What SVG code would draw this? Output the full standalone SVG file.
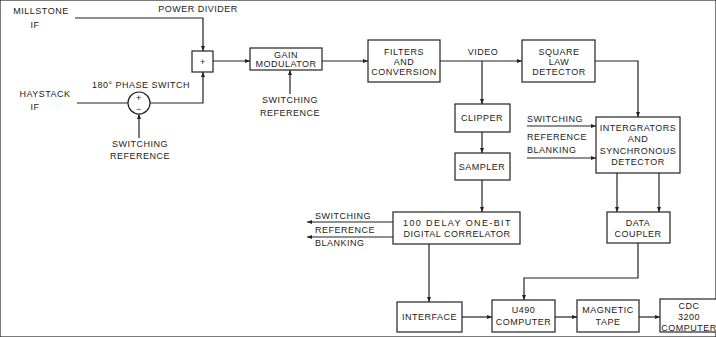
<svg xmlns="http://www.w3.org/2000/svg" width="716" height="337" viewBox="0 0 716 337">
<defs>
<marker id="ah" viewBox="0 0 10 10" refX="10" refY="5" markerWidth="5" markerHeight="5" orient="auto" markerUnits="userSpaceOnUse">
<path d="M0,1 L10,5 L0,9 Z" fill="#222"/>
</marker>
<style>
text{font-family:"Liberation Sans",Arial,sans-serif;font-size:9px;letter-spacing:0.5px;fill:#222;text-anchor:middle}
.s{text-anchor:start}
rect,circle{fill:#fff;stroke:#222;stroke-width:1.2}
.c path,.c line,.c polyline{fill:none;stroke:#222;stroke-width:1.2}
.a{marker-end:url(#ah)}
</style>
</defs>
<rect x="0" y="0" width="716" height="337" fill="#fff" stroke="none"/>

<g id="labels">
<text x="41" y="13.5">MILLSTONE</text>
<text x="35" y="27.5">IF</text>
<text x="198" y="12">POWER DIVIDER</text>
<text x="141" y="88">180° PHASE SWITCH</text>
<text x="45" y="97">HAYSTACK</text>
<text x="35" y="110">IF</text>
<text x="140" y="147">SWITCHING</text>
<text x="140" y="159">REFERENCE</text>
<text x="290" y="103">SWITCHING</text>
<text x="290" y="116">REFERENCE</text>
<text x="483" y="55">VIDEO</text>
<text class="s" x="527" y="122">SWITCHING</text>
<text class="s" x="527" y="140">REFERENCE</text>
<text class="s" x="527" y="153">BLANKING</text>
<text class="s" x="315" y="219">SWITCHING</text>
<text class="s" x="315" y="233">REFERENCE</text>
<text class="s" x="315" y="246">BLANKING</text>
</g>

<g id="sum">
<rect x="192" y="51" width="21" height="21"/>
<text x="203" y="64.5">+</text>
</g>
<g id="phase-switch">
<circle cx="139" cy="103" r="11"/>
<text x="139" y="101">+</text>
<text x="139" y="112">−</text>
</g>
<g id="gain-modulator">
<rect x="250" y="48" width="72" height="22"/>
<text x="286" y="58">GAIN</text>
<text x="286" y="67">MODULATOR</text>
</g>
<g id="filters">
<rect x="368" y="40" width="72" height="42"/>
<text x="404" y="55">FILTERS</text>
<text x="404" y="64.5">AND</text>
<text x="404" y="75">CONVERSION</text>
</g>
<g id="square-law">
<rect x="522" y="40" width="73" height="42"/>
<text x="559" y="55">SQUARE</text>
<text x="559" y="65">LAW</text>
<text x="559" y="75">DETECTOR</text>
</g>
<g id="clipper">
<rect x="455" y="104" width="55" height="28"/>
<text x="482" y="121">CLIPPER</text>
</g>
<g id="sampler">
<rect x="455" y="153" width="55" height="27"/>
<text x="482" y="170">SAMPLER</text>
</g>
<g id="integrators">
<rect x="596" y="117" width="84" height="56"/>
<text x="638" y="131">INTERGRATORS</text>
<text x="638" y="142">AND</text>
<text x="638" y="154">SYNCHRONOUS</text>
<text x="638" y="165">DETECTOR</text>
</g>
<g id="data-coupler">
<rect x="607" y="212" width="63" height="31"/>
<text x="638" y="226">DATA</text>
<text x="638" y="237">COUPLER</text>
</g>
<g id="correlator">
<rect x="393" y="212" width="127" height="32"/>
<text x="457" y="226" textLength="108" lengthAdjust="spacing">100 DELAY ONE-BIT</text>
<text x="457" y="237">DIGITAL CORRELATOR</text>
</g>
<g id="interface">
<rect x="397" y="302" width="65" height="30"/>
<text x="429.5" y="320">INTERFACE</text>
</g>
<g id="u490">
<rect x="492" y="300" width="63" height="32"/>
<text x="523.5" y="313">U490</text>
<text x="523.5" y="325">COMPUTER</text>
</g>
<g id="magnetic-tape">
<rect x="577" y="300" width="62" height="32"/>
<text x="608" y="313">MAGNETIC</text>
<text x="608" y="325">TAPE</text>
</g>
<g id="cdc">
<rect x="660" y="299" width="60" height="33"/>
<text x="689" y="309">CDC</text>
<text x="689" y="320">3200</text>
<text x="689" y="331">COMPUTER</text>
</g>

<g id="connectors" class="c">
<polyline class="a" points="75,18 203,18 203,51"/>
<line x1="77" y1="103" x2="128" y2="103"/>
<polyline class="a" points="150,103 203,103 203,72"/>
<line class="a" x1="139" y1="138" x2="139" y2="114"/>
<line class="a" x1="213" y1="61" x2="250" y2="61"/>
<line class="a" x1="290" y1="94" x2="290" y2="70"/>
<line class="a" x1="322" y1="61" x2="368" y2="61"/>
<line class="a" x1="440" y1="61" x2="522" y2="61"/>
<line class="a" x1="482" y1="61" x2="482" y2="104"/>
<polyline class="a" points="595,61 638,61 638,117"/>
<line class="a" x1="482" y1="132" x2="482" y2="153"/>
<line class="a" x1="482" y1="180" x2="482" y2="212"/>
<line class="a" x1="527" y1="126" x2="596" y2="126"/>
<line class="a" x1="527" y1="158" x2="596" y2="158"/>
<line class="a" x1="617" y1="173" x2="617" y2="212"/>
<line class="a" x1="659" y1="173" x2="659" y2="212"/>
<line class="a" x1="393" y1="222" x2="307" y2="222"/>
<line class="a" x1="393" y1="237" x2="307" y2="237"/>
<line class="a" x1="429" y1="244" x2="429" y2="302"/>
<polyline class="a" points="638,243 638,278 524,278 524,300"/>
<line class="a" x1="462" y1="317" x2="492" y2="317"/>
<line class="a" x1="555" y1="317" x2="577" y2="317"/>
<line class="a" x1="639" y1="317" x2="660" y2="317"/>
</g>
</svg>
